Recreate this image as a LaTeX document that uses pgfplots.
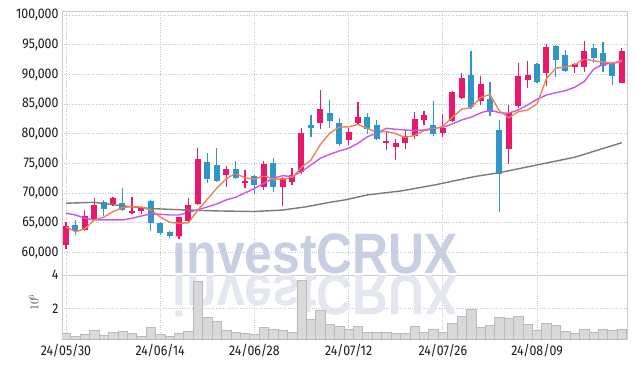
\documentclass[border=0pt]{standalone}
\usepackage{fontspec}
\setmainfont{Fira Sans}[FakeStretch=0.88]
\newfontfamily\wmfont{Liberation Sans}[FakeStretch=0.875]
\usepackage{pgfplots}
\pgfplotsset{compat=1.18}
\usepackage{pgfplotstable}
\definecolor{upc}{HTML}{E8196A}
\definecolor{dnc}{HTML}{2F96C9}
\definecolor{ma5}{HTML}{EE8452}
\definecolor{ma20}{HTML}{C957E8}
\definecolor{malong}{HTML}{7A7A7A}
\definecolor{gridc}{HTML}{C2C6DA}
\definecolor{framec}{HTML}{CCCCCC}
\definecolor{wm}{HTML}{C8CFE3}
\definecolor{wmr}{HTML}{E4E6F0}
\definecolor{volf}{HTML}{D9D9D9}
\definecolor{vold}{HTML}{BBBBBB}
\definecolor{lab}{HTML}{1A1A1A}

\pgfplotstableread{
x o h l c
0 61300 65200 60600 64500
2 63800 67100 63700 66200
3 65500 69200 65400 68000
5 68200 69400 67800 69200
7 66600 69300 66400 67000
8 67000 67900 66500 67500
12 62700 66000 62200 66000
13 65300 69200 65200 68000
14 68200 77600 68000 75700
17 73100 74500 71100 74000
19 71700 73900 70900 72000
21 71000 75400 70500 74900
23 71100 72700 67900 72600
24 71800 74300 71300 73100
25 73500 81000 73300 80100
27 81900 87400 80800 84200
30 78900 81000 78100 80300
31 81900 85400 81500 82900
34 78500 80500 77300 78800
35 77800 79200 75600 78500
36 78500 80600 77400 79700
37 79600 83700 79200 82500
38 82300 83900 81500 83200
40 80200 83300 79400 81000
41 82200 87200 82000 87100
42 86100 90200 85800 89400
44 85600 89700 84900 88400
47 77400 84900 74900 83500
48 84700 91900 84300 89700
49 89000 92200 87800 89900
51 90200 95100 88100 94600
54 91200 91900 90200 91700
55 91300 95700 90500 94000
59 88600 94400 88500 94000
}\upT

\pgfplotstableread{
x o h l c
1 64700 65400 62900 63600
4 68500 68800 66100 67400
6 68400 70800 67000 67100
9 68700 68900 63600 65000
10 65000 65200 63000 63300
11 63500 63600 62500 62700
15 75200 76800 71700 72400
16 74700 77600 71800 72000
18 74100 75400 72300 72500
20 72900 73000 69900 71300
22 75000 76000 70200 71100
26 81500 83200 79400 80900
28 83500 85700 81000 82200
29 81800 82600 78000 78300
32 82800 83500 80000 80800
33 81500 82300 79000 79100
39 81500 85500 79700 80000
43 89900 94000 84200 84600
45 85800 88800 83000 83700
46 80600 82300 66900 73300
50 91800 91900 88600 88800
52 94800 94900 89500 92400
53 93300 94200 90400 90600
56 94500 95100 92000 92800
57 93700 95400 90400 91400
58 92000 92100 88300 89700
}\dnT

\pgfplotstableread{
x v
0 0.53
1 0.35
2 0.47
3 0.71
4 0.41
5 0.59
6 0.67
7 0.53
8 0.35
9 0.89
10 0.47
11 0.35
12 0.53
13 0.67
14 3.62
15 1.48
16 1.26
17 0.71
18 0.59
19 0.53
20 0.47
21 0.89
22 0.77
23 0.71
24 0.59
25 3.68
26 1.36
27 1.92
28 1.06
29 0.95
30 0.77
31 0.95
32 0.59
33 0.59
34 0.59
35 0.53
36 0.53
37 0.95
38 0.59
39 0.77
40 0.59
41 1.12
42 1.54
43 1.96
44 0.89
45 1.01
46 1.48
47 1.42
48 1.54
49 1.06
50 0.71
51 1.12
52 1.01
53 0.65
54 0.53
55 0.77
56 0.59
57 0.77
58 0.71
59 0.77
}\volT

\pgfplotsset{
  candlewick/.style={only marks, mark size=0pt, mark options={draw=none, fill=none}, forget plot,
    error bars/.cd, y dir=both, y explicit, error mark=none,
    error bar style={#1, line width=1.2pt}},
  candlebody/.style={only marks, mark=-, mark size=3pt, forget plot,
    mark options={#1, line width=1.3pt},
    error bars/.cd, y dir=both, y explicit, error mark=none,
    error bar style={#1, line width=6pt}},
}

\begin{document}
\begin{tikzpicture}
\begin{axis}[
  name=price, scale only axis,
  width=565pt, height=264pt,
  xmin=-0.42, xmax=59.55, ymin=56200, ymax=100700,
  axis line style={framec},
  major tick length=0pt,
  xtick={0,10,20,30,40,50}, xticklabels={},
  ytick={60000,65000,70000,75000,80000,85000,90000,95000,100000},
  scaled y ticks=false,
  yticklabel style={font=\fontsize{14}{14}\selectfont, text=lab,
    /pgf/number format/.cd, fixed, precision=0, 1000 sep={,}, assume math mode=true},
  grid=major, major grid style={gridc, dotted, line width=0.8pt},
]
\node[anchor=base, inner sep=0, text=wm] at (rel axis cs:0.4487,0.0038) {\wmfont\bfseries\fontsize{57}{57}\selectfont investCRUX};
\addplot[candlewick=upc] table[x=x, y expr={(\thisrow{h}+\thisrow{l})/2}, y error expr={(\thisrow{h}-\thisrow{l})/2}] {\upT};
\addplot[candlewick=dnc] table[x=x, y expr={(\thisrow{h}+\thisrow{l})/2}, y error expr={(\thisrow{h}-\thisrow{l})/2}] {\dnT};
\addplot[candlebody=upc] table[x=x, y expr={(\thisrow{o}+\thisrow{c})/2}, y error expr={abs(\thisrow{c}-\thisrow{o})/2}] {\upT};
\addplot[candlebody=dnc] table[x=x, y expr={(\thisrow{o}+\thisrow{c})/2}, y error expr={abs(\thisrow{c}-\thisrow{o})/2}] {\dnT};

% long moving average
\addplot[malong, line width=1.4pt] coordinates {
(0,68300) (3,68450) (6,67850) (9,67400) (12,67200) (16,67000) (20,66900)
(23,67150) (25.5,67700) (28,68450) (29.6,68850) (32,69700) (35.7,70400)
(39.2,71400) (43.4,72800) (46,73450) (50,74750) (54,76050) (59,78500)};
% MA20
\addplot[ma20, line width=1.4pt] coordinates {
(0,66610) (1,66320) (2,65770) (3,65480) (4,65480) (5,65480) (6,65480) (7,65770)
(8,66150) (9,66490) (10,66440) (11,66320) (12,66320) (13,66740) (14,67215)
(15,67670) (16,68180) (17,68850) (18,69300) (19,70030) (20,70790) (21,71660)
(22,72510) (23,72940) (24,72780) (25,73620) (26,74750) (27,75880) (28,76550)
(29,77100) (30,77560) (31,78400) (32,79520) (33,80090) (34,80930) (35,80760)
(36,80650) (37,80530) (38,80650) (39,80930) (40,81100) (41,81660) (42,82330)
(43,82790) (44,83510) (45,84020) (46,83560) (47,83460) (48,84020) (49,84860)
(50,85820) (51,86540) (52,86930) (53,87270) (54,87840) (55,88780) (56,90870)
(57,91720) (58,91880) (59,92150)};
% MA5
\addplot[ma5, line width=1.4pt] coordinates {
(0,64300) (1,63510) (2,63960) (3,65480) (4,65940) (5,66880) (6,67580) (7,67740)
(8,67640) (9,67160) (10,65980) (11,65100) (12,64900) (13,65000) (14,67140)
(15,68960) (16,70820) (17,72420) (18,73320) (19,72580) (20,72360) (21,72940)
(22,72360) (23,72380) (24,72600) (25,74360) (26,75560) (27,78180) (28,80100)
(29,81140) (30,81180) (31,81580) (32,80900) (33,80280) (34,80380) (35,80020)
(36,79380) (37,79720) (38,80540) (39,80780) (40,81280) (41,82760) (42,84140)
(43,84420) (44,86100) (45,86640) (46,83880) (47,82700) (48,83720) (49,84020)
(50,85040) (51,89300) (52,91080) (53,91260) (54,91620) (55,92660) (56,92300)
(57,92100) (58,91920) (59,92380)};
\end{axis}

\begin{axis}[
  name=vol, at={(price.south west)}, anchor=north west, scale only axis,
  width=565pt, height=64.3pt,
  xmin=-0.42, xmax=59.55, ymin=0.17, ymax=4,
  axis line style={framec},
  major tick length=0pt,
  xtick={0,10,20,30,40,50},
  xticklabels={24/05/30,24/06/14,24/06/28,24/07/12,24/07/26,24/08/09},
  ytick={2,4}, yticklabels={2,4},
  xticklabel style={font=\fontsize{14}{14}\selectfont, text=lab, yshift=-1.4pt},
  yticklabel style={font=\fontsize{14}{14}\selectfont, text=lab},
  grid=major, major grid style={gridc, dotted, line width=0.8pt},
]
\node[anchor=base, inner sep=0, text=wmr, yscale=-1] at (rel axis cs:0.4487,0.985) {\wmfont\bfseries\fontsize{57}{57}\selectfont investCRUX};
\addplot[ybar, bar width=1, fill=volf, draw=vold, line width=0.5pt] table[x=x, y=v] {\volT};
\end{axis}
\node[rotate=90, text=black!75, font=\fontsize{12}{12}\selectfont] at ([shift={(-28.5pt,4.6pt)}]vol.west) {$10^6$};
\path ([shift={(-62pt,11pt)}]price.north west) rectangle ([shift={(8pt,-28.7pt)}]vol.south east);
\end{tikzpicture}
\end{document}
